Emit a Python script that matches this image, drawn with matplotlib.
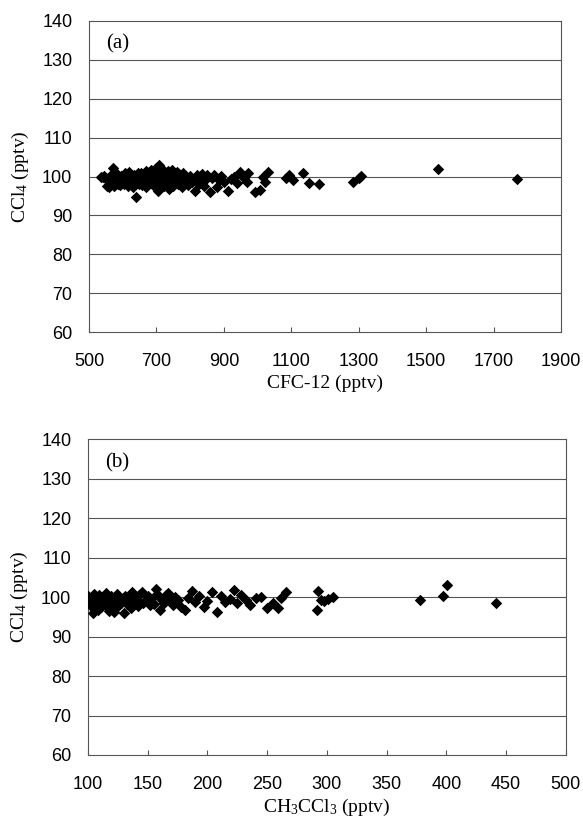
import numpy as np
import matplotlib
matplotlib.use("Agg")
import matplotlib.pyplot as plt

plt.rcParams['font.family'] = ['Liberation Sans', 'DejaVu Sans']
plt.rcParams['mathtext.default'] = 'regular'

# (a) CFC-12 vs CCl4
cfc12 = [535, 540, 545, 548, 552, 555, 558, 562, 565, 570, 572, 575, 578, 582, 585,
         588, 592, 595, 598, 602, 605, 608, 612, 615, 618, 620, 624, 628, 630, 633,
         636, 638, 641, 645, 648, 650, 653, 656, 660, 662, 665, 668, 670, 673, 676,
         680, 683, 686, 690, 693, 696, 700, 703, 706, 708, 710, 713, 716, 720, 723,
         726, 730, 733, 736, 740, 743, 746, 750, 753, 757, 760, 765, 770, 775, 780,
         785, 790, 795, 800, 805, 810, 814, 820, 825, 830, 835, 840, 845, 850, 859,
         865, 872, 879, 885, 892, 900, 913, 920, 930, 938, 948, 960, 968, 973, 992,
         1007, 1015, 1022, 1032, 1085, 1094, 1106, 1136, 1151, 1182, 1282, 1302, 1308,
         1536, 1769]
ccl4_a = [100.0, 99.8, 100.2, 99.6, 97.5, 99.0, 97.3, 98.2, 100.4, 102.1, 98.8, 97.6, 99.3, 100.6, 98.0,
          99.5, 97.8, 100.2, 98.6, 99.9, 98.2, 100.8, 99.1, 97.5, 100.0, 101.2, 98.9, 99.6, 97.2, 100.5,
          98.4, 94.8, 99.8, 101.0, 98.1, 99.4, 100.9, 97.9, 99.0, 100.3, 98.6, 101.4, 97.4, 99.7, 100.8,
          98.3, 101.6, 99.2, 97.7, 100.4, 98.9, 102.3, 99.5, 96.2, 103.0, 100.7, 98.1, 101.9, 99.3, 97.6,
          100.2, 98.7, 101.4, 96.8, 99.9, 98.4, 101.8, 97.5, 100.5, 99.0, 101.2, 98.2, 99.6, 97.3, 100.9,
          98.8, 99.7, 97.9, 100.1, 98.5, 99.2, 96.4, 100.3, 98.0, 99.5, 100.6, 97.6, 99.1, 100.4, 96.1,
          99.7, 100.5, 97.4, 99.2, 100.2, 98.6, 96.4, 99.4, 99.8, 98.3, 101.2, 99.6, 98.7, 100.8, 96.1,
          96.6, 99.8, 98.7, 101.2, 99.6, 100.5, 99.0, 100.8, 98.3, 98.1, 98.6, 99.5, 100.1,
          101.9, 99.3]

# (b) CH3CCl3 vs CCl4
ch3ccl3 = [100, 101, 102, 103, 104, 105, 106, 107, 108, 109, 110, 111, 112, 113, 114,
           115, 116, 117, 118, 119, 120, 121, 122, 124, 125, 127, 128, 130, 131, 133,
           135, 136, 137, 139, 140, 142, 143, 145, 146, 148, 150, 152, 153, 155, 157,
           158, 160, 162, 164, 165, 167, 169, 171, 173, 175, 178, 181, 184, 187, 190,
           193, 197, 200, 204, 208, 211, 215, 219, 222, 225, 228, 232, 236, 241, 245,
           250, 255, 259, 262, 266, 291.5, 293, 295, 298, 301, 305.5, 378, 397.6, 400.4,
           441.7]
ccl4_b = [100.3, 98.9, 99.6, 97.4, 95.9, 100.8, 98.2, 99.9, 96.8, 100.5, 98.7, 97.6, 100.1, 99.2, 97.9,
          101.0, 98.4, 99.7, 96.5, 100.4, 98.0, 99.3, 96.3, 100.7, 97.8, 99.5, 98.6, 95.9, 100.2, 98.3,
          99.8, 97.2, 101.2, 98.8, 99.4, 97.7, 100.6, 101.4, 98.5, 99.1, 100.3, 97.9, 99.6, 98.2, 102.0,
          100.9, 96.8, 99.2, 98.6, 100.5, 101.1, 99.4, 98.1, 100.0, 99.3, 97.4, 96.8, 99.9, 101.6, 98.7,
          100.4, 97.6, 99.1, 101.2, 96.3, 100.2, 98.8, 99.6, 101.8, 98.4, 100.6, 99.2, 98.0, 99.7, 100.1,
          97.2, 98.5, 97.2, 99.8, 101.4, 96.8, 101.6, 99.3, 99.0, 99.4, 100.0, 99.3, 100.3, 103.1,
          98.6]

fig = plt.figure(figsize=(5.83, 8.26), dpi=100)
ax1 = fig.add_axes([0.1527, 0.5977, 0.8096, 0.3772])
ax2 = fig.add_axes([0.1509, 0.0860, 0.8194, 0.3822])


def style(ax, xmin, xmax, xstep, tag, xlabel):
    ax.set_xlim(xmin, xmax)
    ax.set_ylim(60, 140)
    ax.set_xticks(np.arange(xmin, xmax + 1, xstep))
    ax.set_yticks(np.arange(60, 141, 10))
    for y in range(70, 140, 10):
        ax.axhline(y, color='#555555', lw=0.8, zorder=0)
    for s in ax.spines.values():
        s.set_color('#555555')
        s.set_linewidth(0.8)
    ax.tick_params(axis='x', direction='in', length=3.5, width=0.8, color='#555555',
                   pad=15, labelsize=13)
    ax.tick_params(axis='y', length=0, pad=12, labelsize=13)
    ax.text(0.061, 0.925, tag, transform=ax.transAxes, family='Liberation Serif',
            fontsize=15, ha='center', va='center')
    ax.set_xlabel(xlabel, family='Liberation Serif', fontsize=14, labelpad=3)
    ax.set_ylabel('CCl$_4$ (pptv)', family='Liberation Serif', fontsize=14, labelpad=8)


ax1.scatter(cfc12, ccl4_a, marker='D', s=34, c='black', linewidths=0, zorder=3)
style(ax1, 500, 1900, 200, '(a)', 'CFC-12 (pptv)')

ax2.scatter(ch3ccl3, ccl4_b, marker='D', s=34, c='black', linewidths=0, zorder=3)
style(ax2, 100, 500, 50, '(b)', 'CH$_3$CCl$_3$ (pptv)')

fig.savefig('out.png', dpi=100)
